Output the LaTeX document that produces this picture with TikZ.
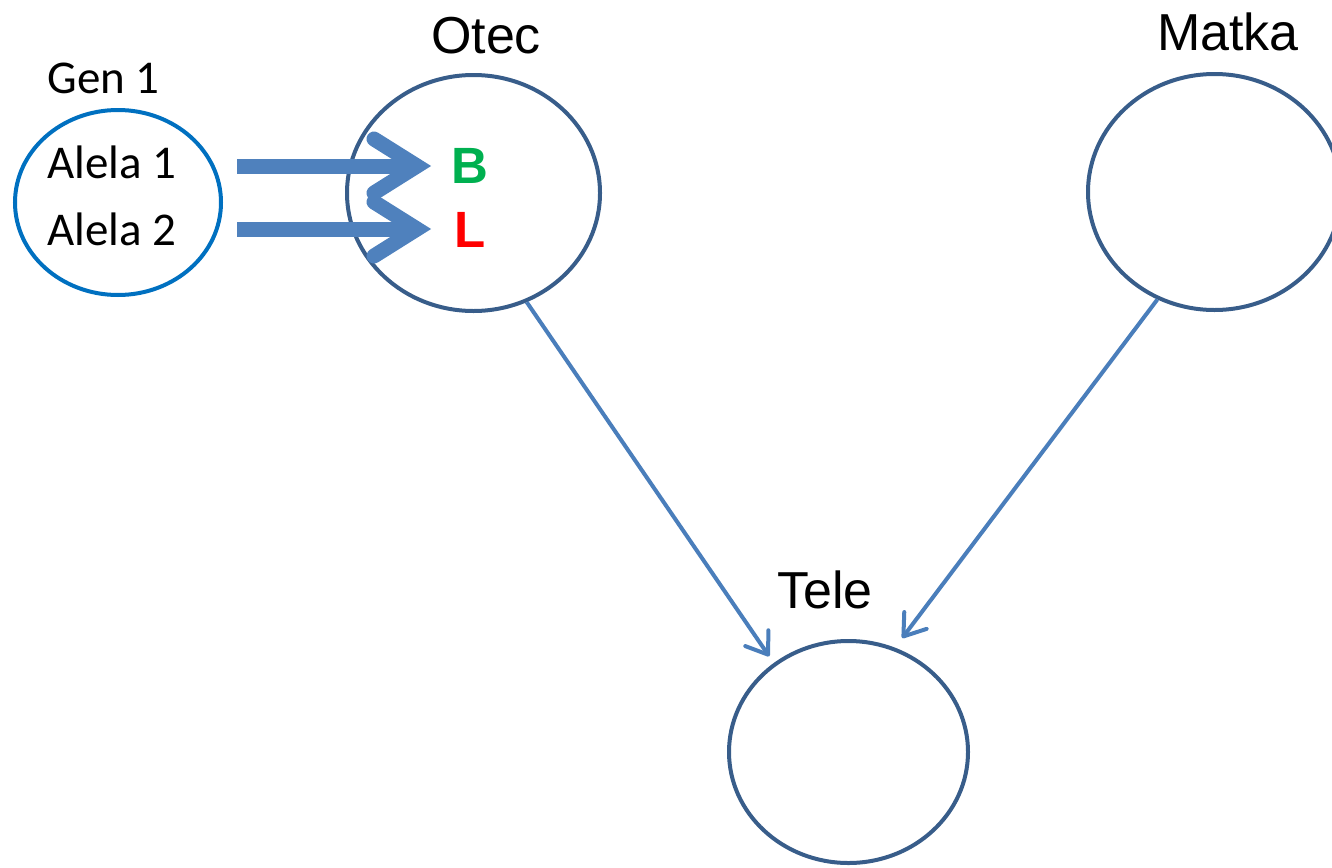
\documentclass[tikz,border=0pt]{standalone}
\usepackage{fontspec}
\setmainfont{Liberation Sans}
\newfontfamily\calibri{Carlito}
\usetikzlibrary{shapes.geometric,arrows.meta,calc}
\definecolor{ringblue}{HTML}{385D8A}
\definecolor{genblue}{HTML}{0070C0}
\definecolor{linkblue}{HTML}{4A7EBB}
\definecolor{fatblue}{HTML}{4F81BD}
\definecolor{alleleB}{HTML}{00B050}
\definecolor{alleleL}{HTML}{FF0000}
\begin{document}
\begin{tikzpicture}[x=0.5pt,y=-0.5pt,
  person/.style={ellipse, draw=ringblue, line width=2pt, inner sep=0pt},
  bigtext/.style={font=\fontsize{26}{30}\selectfont, inner sep=0pt, anchor=base},
  gentext/.style={font=\calibri\fontsize{23.5}{28}\selectfont, inner sep=0pt, anchor=base},
  allele/.style={font=\bfseries\fontsize{25.5}{30}\selectfont, inner sep=0pt, anchor=base west},
  link/.style={draw=linkblue, line width=2pt, shorten >=4pt,
    -{Straight Barb[length=10pt,width=14pt,round]}},
  shaft/.style={draw=fatblue, line width=7.5pt},
  chevron/.style={draw=fatblue, line width=7.5pt, line cap=round, line join=miter},
]
\clip (0,0) rectangle (1332,867);

% ellipses
\node[person, draw=genblue, minimum width=103pt, minimum height=92.5pt] (gen) at (118,202.5) {};
\node[person, minimum width=126.5pt, minimum height=118pt] (otec) at (473.5,193) {};
\node[person, minimum width=126.5pt, minimum height=118pt] (matka) at (1214.5,192) {};
\node[person, minimum width=119.5pt, minimum height=111pt] (tele) at (848.5,752) {};

% labels
\node[gentext] (gentitle) at (103.5,93) {Gen 1};
\node[gentext] (al1) at (112,178) {Alela 1};
\node[gentext] (al2) at (112,245) {Alela 2};
\node[bigtext] (otectxt) at (486,53) {Otec};
\node[bigtext] (matkatxt) at (1228,50) {Matka};
\node[bigtext] (teletxt) at (825,608) {Tele};
\node[allele, text=alleleB] (b) at (451,183) {B};
\node[allele, text=alleleL] (l) at (454,247) {L};

% inheritance links
\draw[link] (otec.-64) -- (tele.130);
\draw[link, shorten >=6pt] (matka.-118) -- (tele.66);

% fat allele arrows
\coordinate (s1) at (237,166);
\coordinate (t1) at (417,166);
\coordinate (s2) at (237,229);
\coordinate (t2) at (417,229);
\draw[shaft] (s1) -- (t1);
\draw[shaft] (s2) -- (t2);
\draw[chevron] ($(t1)+(-43,-27)$) -- (t1) -- ($(t1)+(-43,27)$);
\draw[chevron] ($(t2)+(-43,-27)$) -- (t2) -- ($(t2)+(-43,27)$);
\end{tikzpicture}
\end{document}
